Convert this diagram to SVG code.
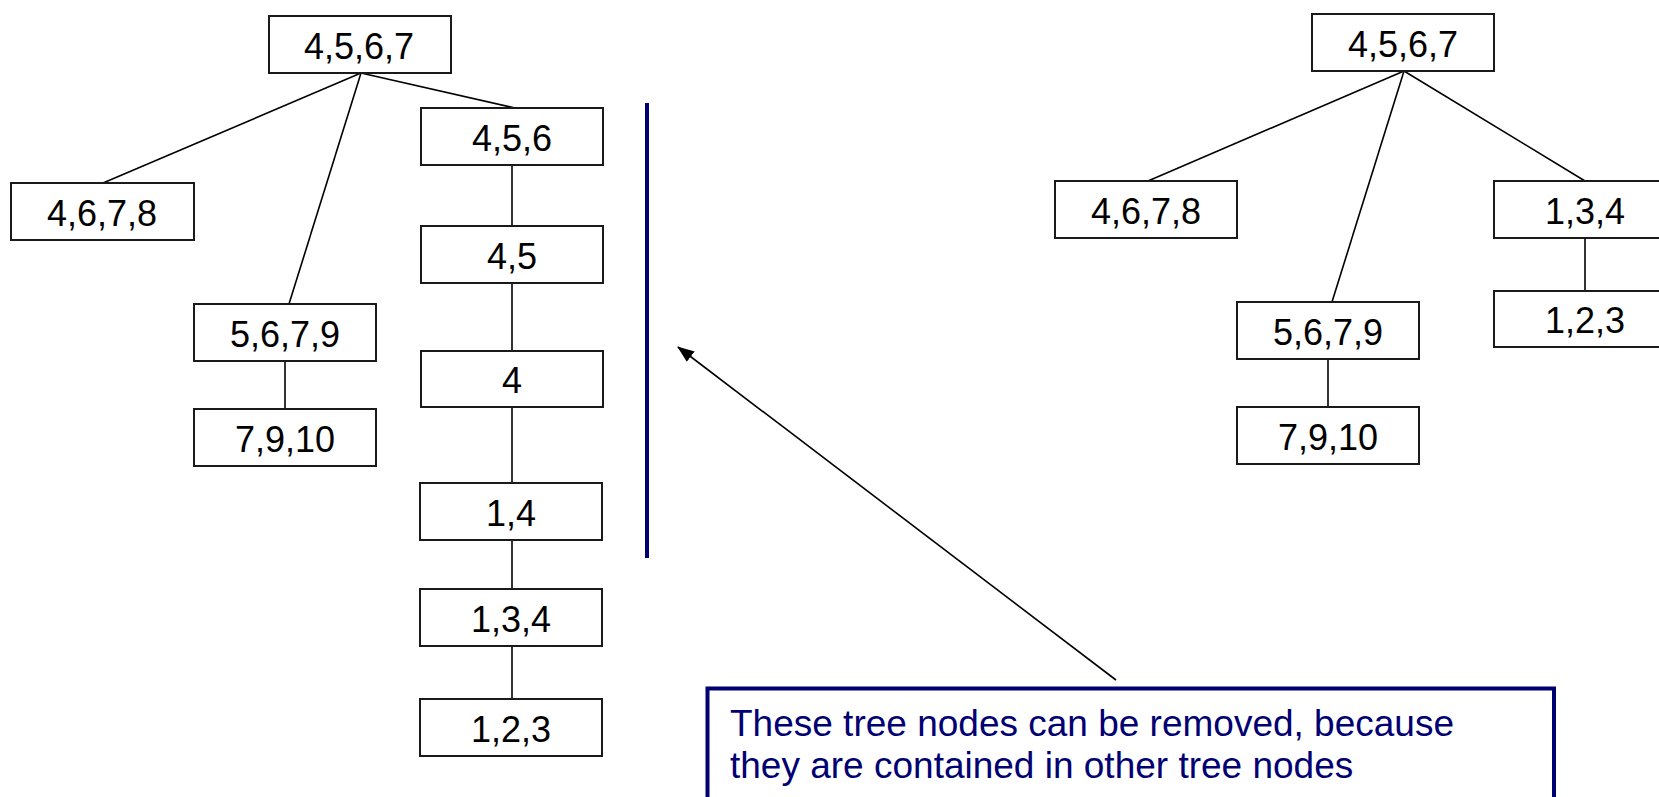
<svg xmlns="http://www.w3.org/2000/svg" width="1659" height="797" viewBox="0 0 1659 797">
  <defs>
    <style>
      .node rect { fill: #ffffff; stroke: #1a1a1a; stroke-width: 2; }
      .node text { font-family: "Liberation Sans", Arial, sans-serif; font-size: 36px; fill: #000000; text-anchor: middle; }
      .edges line { stroke: #000000; stroke-width: 1.6; }
      .note rect { fill: #ffffff; stroke: #000073; stroke-width: 4; }
      .note text { font-family: "Liberation Sans", Arial, sans-serif; font-size: 37px; fill: #000073; }
    </style>
    <marker id="arrowhead" viewBox="0 0 17 13" refX="16" refY="6.5" markerWidth="17" markerHeight="13" markerUnits="userSpaceOnUse" orient="auto">
      <path d="M0,0 L17,6.5 L0,13 Z" fill="#000000"/>
    </marker>
  </defs>
  <rect width="1659" height="797" fill="#ffffff"/>

  <!-- tree connectors -->
  <g id="connectors" class="edges">
    <!-- left tree -->
    <line x1="361" y1="73" x2="103" y2="183"/>
    <line x1="361" y1="73" x2="289" y2="304"/>
    <line x1="361" y1="73" x2="515" y2="108"/>
    <line x1="512" y1="165" x2="512" y2="226"/>
    <line x1="512" y1="283" x2="512" y2="351"/>
    <line x1="512" y1="407" x2="512" y2="483"/>
    <line x1="512" y1="540" x2="512" y2="589"/>
    <line x1="512" y1="646" x2="512" y2="699"/>
    <line x1="285" y1="361" x2="285" y2="409"/>
    <!-- right tree -->
    <line x1="1404" y1="71" x2="1148" y2="181"/>
    <line x1="1404" y1="71" x2="1332" y2="302"/>
    <line x1="1404" y1="71" x2="1585" y2="181"/>
    <line x1="1585" y1="238" x2="1585" y2="291"/>
    <line x1="1328" y1="359" x2="1328" y2="407"/>
    <!-- callout pointer -->
    <line x1="1116" y1="680" x2="678" y2="347" stroke-width="1.8" marker-end="url(#arrowhead)"/>
  </g>

  <!-- left tree nodes -->
  <g id="L-4567" class="node"><rect x="269" y="16" width="182" height="57"/><text x="359" y="59">4,5,6,7</text></g>
  <g id="L-4678" class="node"><rect x="11" y="183" width="183" height="57"/><text x="102" y="226">4,6,7,8</text></g>
  <g id="L-456" class="node"><rect x="421" y="108" width="182" height="57"/><text x="512" y="151">4,5,6</text></g>
  <g id="L-45" class="node"><rect x="421" y="226" width="182" height="57"/><text x="512" y="269">4,5</text></g>
  <g id="L-4" class="node"><rect x="421" y="351" width="182" height="56"/><text x="512" y="393">4</text></g>
  <g id="L-14" class="node"><rect x="420" y="483" width="182" height="57"/><text x="511" y="526">1,4</text></g>
  <g id="L-134" class="node"><rect x="420" y="589" width="182" height="57"/><text x="511" y="632">1,3,4</text></g>
  <g id="L-123" class="node"><rect x="420" y="699" width="182" height="57"/><text x="511" y="742">1,2,3</text></g>
  <g id="L-5679" class="node"><rect x="194" y="304" width="182" height="57"/><text x="285" y="347">5,6,7,9</text></g>
  <g id="L-7910" class="node"><rect x="194" y="409" width="182" height="57"/><text x="285" y="452">7,9,10</text></g>

  <!-- bracket marking the removable chain -->
  <line id="bracket" x1="647" y1="103" x2="647" y2="558" stroke="#000073" stroke-width="4"/>

  <!-- right tree nodes -->
  <g id="R-4567" class="node"><rect x="1312" y="14" width="182" height="57"/><text x="1403" y="57">4,5,6,7</text></g>
  <g id="R-4678" class="node"><rect x="1055" y="181" width="182" height="57"/><text x="1146" y="224">4,6,7,8</text></g>
  <g id="R-134" class="node"><rect x="1494" y="181" width="182" height="57"/><text x="1585" y="224">1,3,4</text></g>
  <g id="R-123" class="node"><rect x="1494" y="291" width="182" height="56"/><text x="1585" y="333">1,2,3</text></g>
  <g id="R-5679" class="node"><rect x="1237" y="302" width="182" height="57"/><text x="1328" y="345">5,6,7,9</text></g>
  <g id="R-7910" class="node"><rect x="1237" y="407" width="182" height="57"/><text x="1328" y="450">7,9,10</text></g>

  <!-- explanatory note -->
  <g id="note" class="note">
    <rect x="707.5" y="688.5" width="846.5" height="140"/>
    <text x="730" y="736">These tree nodes can be removed, because</text>
    <text x="730" y="778">they are contained in other tree nodes</text>
  </g>
</svg>
